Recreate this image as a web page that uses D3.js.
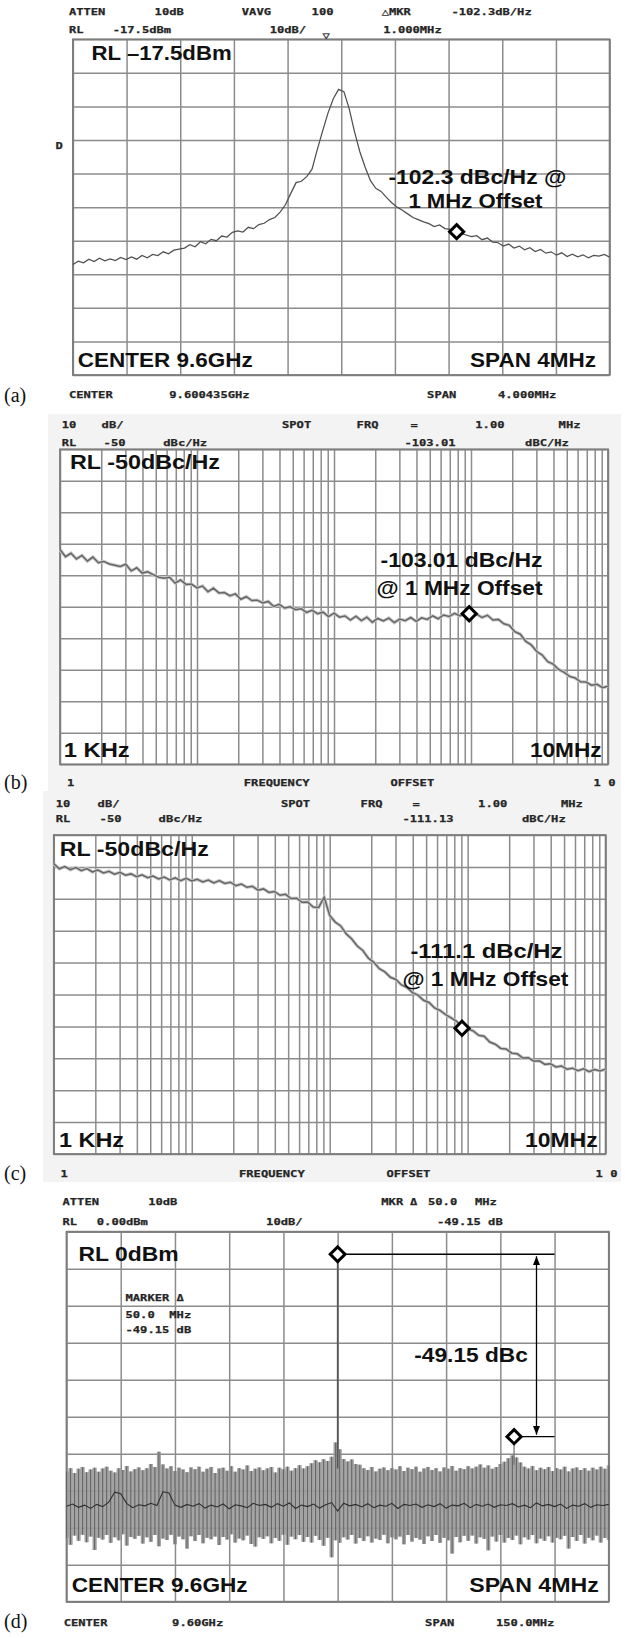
<!DOCTYPE html>
<html><head><meta charset="utf-8">
<script src="https://cdn.jsdelivr.net/npm/d3@7"></script>
<style>
html,body{margin:0;padding:0;background:#fff;}
svg{display:block;}
.mono{font-family:"DejaVu Sans Mono",monospace;font-weight:bold;font-size:9.5px;fill:#262626;stroke:#262626;stroke-width:0.25px;}
.big{font-family:"Liberation Sans",Arial,sans-serif;font-weight:bold;font-size:21px;fill:#111;}
.tag{font-family:"Liberation Serif","Times New Roman",serif;font-size:20px;fill:#111;}
</style></head><body>
<svg id="c" width="625" height="1638"></svg>
<script>
// ---------------- DATA ----------------
// (a) spectrum around carrier, offset from center (MHz), level dBm
const aSweep = [-2, 2];
const aTrace = [
 -84.6,-83.6,-84.1,-83.0,-83.7,-82.7,-83.5,-82.9,-83.4,-82.5,-83.1,
 -82.3,-83.0,-81.9,-82.6,-81.6,-81.9,-80.8,-81.4,-80.3,-80.0,
 -79.7,-78.7,-79.3,-77.8,-78.4,-77.1,-77.5,-76.1,-76.4,-75.0,
 -74.6,-74.9,-73.5,-73.9,-72.7,-72.3,-71.2,-70.6,-69.0,-66.8,
 -63.4,-60.2,-59.8,-58.4,-56.2,-50.3,-44.8,-39.5,-35.2,-32.4,
 -33.1,-38.2,-45.1,-51.0,-55.6,-59.6,-61.9,-62.8,-64.6,-66.2,
 -67.5,-68.4,-69.5,-70.6,-71.2,-71.9,-72.4,-73.3,-72.8,-73.9,
 -74.1,-74.9,-75.3,-75.8,-76.3,-76.0,-77.2,-76.7,-77.9,-78.1,
 -79.1,-78.5,-79.7,-79.1,-80.2,-79.6,-80.7,-80.1,-81.2,-80.8,
 -81.8,-81.1,-82.2,-81.5,-82.3,-81.7,-82.6,-81.9,-82.1,-81.6,-82.4];
const aMarker = [0.86, -74.8];
const aRange = [-117.5, -17.5];

// (b) phase noise, offset frequency 1 kHz .. 10 MHz (log10 sweep), dBc/Hz
const bSweepExp = [3, 7];
const bTrace = [
 -81.8,-84.1,-83.0,-84.8,-83.7,-85.5,-84.2,-86.0,-85.6,-86.4,
 -86.8,-87.2,-86.5,-88.6,-87.6,-89.3,-88.9,-89.8,-90.6,-90.9,
 -90.6,-92.5,-91.5,-92.9,-92.8,-94.0,-93.4,-95.2,-94.1,-95.6,
 -95.5,-96.5,-95.9,-97.6,-96.8,-98.0,-97.9,-98.8,-98.3,-99.9,
 -99.2,-100.4,-100.0,-100.9,-100.6,-101.8,-101.1,-102.2,-101.7,-103.1,
 -102.0,-103.3,-102.9,-104.2,-103.0,-104.4,-103.3,-104.9,-103.7,-104.5,
 -103.6,-105.0,-103.9,-104.4,-103.4,-104.6,-103.5,-104.0,-102.9,-103.8,
 -102.6,-103.1,-102.1,-102.9,-101.9,-102.4,-102.3,-103.4,-102.7,-104.2,
 -104.0,-105.4,-105.9,-107.9,-108.7,-111.0,-112.1,-114.2,-115.3,-117.4,
 -118.2,-119.9,-120.8,-122.1,-122.6,-123.8,-123.9,-124.9,-124.6,-125.7,-125.2];
const bMarker = [0.97e6, -102.2];

// (c) phase noise, offset frequency 1 kHz .. 10 MHz (log10 sweep), dBc/Hz
const cSweepExp = [3, 7];
const cTrace = [
 -59.0,-60.6,-59.9,-60.9,-60.2,-61.2,-60.5,-61.6,-61.0,-61.9,
 -61.4,-62.3,-61.7,-62.6,-62.2,-63.1,-62.5,-63.4,-62.9,-63.8,
 -63.2,-64.1,-63.4,-64.3,-63.6,-64.4,-63.9,-64.7,-64.1,-65.0,
 -64.3,-65.2,-64.8,-65.9,-65.4,-66.4,-66.1,-67.3,-66.9,-68.0,
 -67.7,-68.9,-68.6,-69.9,-69.8,-71.1,-71.0,-72.6,-72.7,-69.5,
 -75.2,-77.3,-78.5,-81.0,-82.6,-84.8,-86.2,-88.6,-89.9,-91.9,
 -92.9,-94.6,-95.3,-97.0,-97.8,-99.4,-100.2,-101.8,-102.5,-104.2,
 -105.0,-106.3,-107.3,-108.4,-110.3,-110.8,-111.4,-112.8,-113.1,-114.9,
 -115.6,-116.9,-117.1,-118.4,-118.6,-119.9,-119.8,-120.9,-120.8,-121.9,
 -121.7,-122.7,-122.4,-123.4,-123.1,-123.9,-123.3,-124.2,-123.5,-124.0,-123.4];
const cMarker = [0.91e6, -110.6];

// (d) wide span spectrum, offset (MHz) -75 .. 75, dBm
const dSweep = [-75, 75];
const dNoiseHigh = [
 -64.8,-63.9,-65.2,-64.1,-63.6,-65.0,-64.3,-63.8,-64.9,-64.0,
 -63.5,-64.6,-65.1,-63.9,-64.4,-63.3,-64.8,-64.2,-63.7,-64.5,
 -63.9,-62.8,-63.6,-59.5,-62.9,-64.0,-63.4,-64.7,-63.8,-64.3,
 -65.0,-63.7,-64.2,-63.5,-64.9,-64.1,-63.6,-65.2,-64.0,-63.8,
 -64.6,-63.4,-64.9,-63.9,-64.3,-63.2,-64.7,-64.1,-63.7,-64.5,
 -64.0,-63.6,-65.1,-63.8,-64.2,-63.5,-64.6,-63.9,-63.1,-64.0,
 -63.4,-62.6,-61.8,-62.3,-61.5,-62.0,-60.8,-57.0,-58.8,-61.4,
 -62.1,-61.6,-62.8,-63.0,-63.9,-64.4,-63.6,-64.8,-64.1,-63.7,
 -64.5,-63.9,-64.3,-63.4,-64.7,-63.8,-64.2,-63.5,-64.9,-64.0,
 -63.6,-64.4,-63.9,-64.8,-63.7,-64.1,-63.3,-64.6,-63.9,-64.2,
 -63.4,-64.0,-63.5,-62.9,-63.8,-63.2,-64.1,-63.6,-62.8,-62.2,
 -61.2,-60.5,-61.0,-62.4,-63.5,-64.0,-63.3,-64.5,-63.8,-64.2,
 -63.6,-64.7,-63.9,-64.3,-63.5,-64.8,-64.0,-63.7,-64.4,-63.9,
 -64.6,-63.8,-64.3,-63.5,-64.1,-63.2];
const dNoiseLow = [
 -82.8,-84.6,-82.1,-83.5,-81.9,-83.9,-82.4,-86.0,-82.7,-83.2,
 -82.0,-84.1,-82.6,-83.4,-81.8,-84.8,-82.5,-83.0,-82.2,-84.3,
 -82.6,-83.8,-82.0,-85.0,-82.9,-83.3,-81.9,-84.5,-82.4,-83.1,
 -85.6,-82.3,-83.6,-82.0,-84.2,-82.7,-83.1,-82.4,-84.7,-82.5,
 -83.2,-81.8,-84.0,-82.9,-83.4,-82.1,-84.4,-85.1,-82.6,-83.0,
 -82.3,-84.2,-82.8,-83.5,-81.9,-84.6,-82.4,-83.1,-82.0,-83.8,
 -82.5,-84.0,-82.2,-83.3,-84.9,-82.7,-88.0,-83.4,-84.1,-82.6,
 -83.2,-82.0,-84.3,-82.8,-83.6,-82.3,-84.0,-82.9,-83.3,-81.9,
 -84.2,-82.6,-83.1,-82.4,-84.5,-82.0,-83.7,-82.8,-83.2,-84.4,
 -82.3,-83.6,-82.0,-84.1,-82.7,-83.4,-87.0,-82.5,-83.9,-82.2,
 -83.5,-82.1,-84.3,-82.6,-83.0,-86.1,-82.4,-83.7,-82.0,-84.0,
 -82.8,-83.3,-82.1,-84.5,-82.6,-83.2,-82.0,-84.2,-82.9,-83.5,
 -82.3,-84.0,-82.7,-83.1,-82.2,-85.6,-82.5,-83.6,-82.0,-84.3,
 -82.7,-83.4,-82.1,-84.0,-82.8,-83.3];
const dNoiseMid = [
 -74.2,-73.6,-74.5,-73.9,-74.8,-73.7,-74.3,-73.1,-70.4,-70.8,
 -73.5,-74.6,-73.8,-74.1,-73.4,-74.0,-70.3,-70.6,-73.9,-74.5,
 -73.7,-74.2,-73.5,-74.7,-73.9,-74.4,-73.6,-74.9,-73.8,-74.1,
 -74.6,-73.4,-74.0,-73.7,-74.5,-73.5,-74.2,-73.3,-74.8,-73.9,
 -74.3,-73.6,-74.7,-73.8,-73.2,-75.5,-73.4,-74.1,-73.7,-74.4,
 -73.5,-74.6,-73.9,-74.2,-73.4,-74.8,-73.7,-74.0,-73.6,-74.5,
 -73.8,-74.3,-73.5,-74.7,-73.9,-74.1,-73.4,-74.6,-73.7,-74.2,
 -73.6,-74.5,-73.8,-74.0,-73.5,-74.4,-73.9,-74.6,-73.3,-74.1,
 -73.7,-74.3,-73.6,-74.8,-73.9,-74.2,-73.5,-74.5,-73.8,-74.0,-73.7];
const dCarrier = [0, -6.1];
const dSpur = [48.8, -55.4];
const dDeltaArrow = [55, 60];   // arrow position, end of reference lines (MHz)

// ---------------- TEXT ----------------
const aHead1 = ["ATTEN","10dB","VAVG","100","\u25B3MKR","-102.3dB/Hz"];
const aHead2 = ["RL","-17.5dBm","10dB/","1.000MHz"];
const aFoot  = ["CENTER","9.600435GHz","SPAN","4.000MHz"];
const bHead1 = ["10","dB/","SPOT","FRQ","=","1.00","MHz"];
const bHead2 = ["RL","-50","dBc/Hz","-103.01","dBC/Hz"];
const cHead1 = ["10","dB/","SPOT","FRQ","=","1.00","MHz"];
const cHead2 = ["RL","-50","dBc/Hz","-111.13","dBC/Hz"];
const logFoot = ["1","FREQUENCY","OFFSET","1 0"];
const dHead1 = ["ATTEN","10dB","MKR","\u0394","50.0","MHz"];
const dHead2 = ["RL","0.00dBm","10dB/","-49.15 dB"];
const dMarkerBox = ["MARKER \u0394","50.0  MHz","-49.15 dB"];
const dFoot  = ["CENTER","9.60GHz","SPAN","150.0MHz"];

// ---------------- DRAW ----------------
const svg = d3.select("#c");
const GRID = "#8c8c8c";

function drawGrid(x, y, xt, yt, P) {
  const g = svg.append("g");
  g.append("g").attr("transform", `translate(0,${P.y1})`)
    .call(d3.axisBottom(x).tickValues(xt).tickSize(-(P.y1 - P.y0)).tickFormat(""));
  g.append("g").attr("transform", `translate(${P.x0},0)`)
    .call(d3.axisLeft(y).tickValues(yt).tickSize(-(P.x1 - P.x0)).tickFormat(""));
  g.selectAll(".domain").remove();
  g.selectAll(".tick line").attr("stroke", GRID).attr("stroke-width", 1.5);
  g.append("rect").attr("x", P.x0).attr("y", P.y0).attr("width", P.x1 - P.x0)
    .attr("height", P.y1 - P.y0).attr("fill", "none").attr("stroke", "#7d7d7d").attr("stroke-width", 1.8);
}
function mono(t, x, y) {
  return svg.append("text").attr("class", "mono").attr("x", x).attr("y", y)
    .attr("textLength", [...t].length * 7.3).attr("lengthAdjust", "spacingAndGlyphs")
    .attr("xml:space", "preserve").text(t);
}
function row(labels, xs, y) { labels.forEach((t, i) => mono(t, xs[i], Array.isArray(y) ? y[i] : y)); }
function big(t, x, y, w, fs) {
  svg.append("text").attr("class", "big").attr("x", x).attr("y", y)
    .style("font-size", (fs || 21) + "px")
    .attr("textLength", w).attr("lengthAdjust", "spacingAndGlyphs").text(t);
}
function tag(t, x, y) { svg.append("text").attr("class", "tag").attr("x", x).attr("y", y).text(t); }
function diamond(x, y, s) {
  svg.append("path").attr("d", d3.symbol(d3.symbolSquare, s || 100)())
    .attr("transform", `translate(${x},${y}) rotate(45)`)
    .attr("fill", "#fff").attr("stroke", "#000").attr("stroke-width", 3);
}

// ---------- panel (a) ----------
const PA = {x0: 72.9, x1: 609.6, y0: 39.3, y1: 375};
const xA = d3.scaleLinear().domain(aSweep).range([PA.x0, PA.x1]);
const yA = d3.scaleLinear().domain(aRange).range([PA.y1, PA.y0]);
drawGrid(xA, yA, d3.range(11).map(i => aSweep[0] + i * (aSweep[1] - aSweep[0]) / 10),
  d3.range(11).map(i => aRange[0] + i * 10), PA);
const idxA = d3.scaleLinear().domain([0, aTrace.length - 1]).range(aSweep);
const lineA = d3.line().x((d, i) => xA(idxA(i))).y(d => yA(d));
svg.append("path").datum(aTrace).attr("d", lineA)
  .attr("fill", "none").attr("stroke", "#505050").attr("stroke-width", 1.25);
diamond(xA(aMarker[0]), yA(aMarker[1]));
row(aHead1, [68.9, 154.6, 241.8, 311.6, 381.7, 451.4], 14.5);
row(aHead2, [68.9, 112.7, 269.7, 383.3], 33);
mono("\u25BD", 322.5, 39);
mono("D", 55.5, 149);
row(aFoot, [68.9, 169.3, 427.1, 498], 398);
tag("(a)", 4, 402);
big("RL \u201317.5dBm", 91.6, 60, 140);
big("-102.3 dBc/Hz @", 388.4, 184, 178);
big("1 MHz Offset", 408.4, 208.3, 134);
big("CENTER 9.6GHz", 77.7, 367.3, 175);
big("SPAN 4MHz", 470, 367.3, 126);

// ---------- panels (b),(c) ----------
function logPanel(P, bg, trace, sweepExp, marker, head1, head2, hx1, hx2, hy1, hy2, fy, fx) {
  svg.append("rect").attr("x", bg[0]).attr("y", bg[1]).attr("width", bg[2] - bg[0])
    .attr("height", bg[3] - bg[1]).attr("fill", "#f3f3f3");
  svg.append("rect").attr("x", P.x0).attr("y", P.y0).attr("width", P.x1 - P.x0)
    .attr("height", P.y1 - P.y0).attr("fill", "#fff");
  const x = d3.scaleLog().domain([Math.pow(10, sweepExp[0]), Math.pow(10, sweepExp[1])]).range([P.x0, P.x1]);
  const y = d3.scaleLinear().domain([-150, -50]).range([P.y1, P.y0]);
  drawGrid(x, y, x.ticks(), d3.range(11).map(i => -150 + 10 * i), P);
  const idx = d3.scaleLinear().domain([0, trace.length - 1]).range(sweepExp);
  const ln = d3.line().x((d, i) => x(Math.pow(10, idx(i)))).y(d => y(d));
  svg.append("path").datum(trace).attr("d", ln)
    .attr("fill", "none").attr("stroke", "#c9c9c9").attr("stroke-width", 3.4);
  svg.append("path").datum(trace).attr("d", ln)
    .attr("fill", "none").attr("stroke", "#666").attr("stroke-width", 1.5);
  diamond(x(marker[0]), y(marker[1]));
  row(head1, hx1, hy1);
  row(head2, hx2, hy2);
  row(logFoot, fx, fy);
}
logPanel({x0: 60, x1: 608, y0: 449.3, y1: 764.3}, [48, 414, 621, 791], bTrace, bSweepExp, bMarker,
  bHead1, bHead2, [61.8, 101.6, 282, 356.6, 410.4, 475.3, 558.6], [61.8, 103.6, 163.3, 404.4, 525.1],
  428, 445.5, 786, [66.9, 243.8, 390.4, 593.6]);
tag("(b)", 4, 789);
big("RL -50dBc/Hz", 70, 469.3, 150);
big("-103.01 dBc/Hz", 380.5, 566.7, 162);
big("@ 1 MHz Offset", 376.5, 595, 166);
big("1 KHz", 63.7, 756.7, 66);
big("10MHz", 529.9, 756.7, 71.7);

logPanel({x0: 53.8, x1: 605.6, y0: 835, y1: 1154}, [43, 791, 621, 1182], cTrace, cSweepExp, cMarker,
  cHead1, cHead2, [55.8, 97.6, 280.9, 360.6, 412.4, 478.1, 561], [55.8, 99.6, 158.6, 402.4, 521.9],
  807, 822, 1177, [60.6, 239, 386.5, 595.6]);
tag("(c)", 4, 1180);
big("RL -50dBc/Hz", 59.8, 856, 149);
big("-111.1 dBc/Hz", 410.4, 958.3, 152);
big("@ 1 MHz Offset", 402.4, 986, 166);
big("1 KHz", 59, 1146.7, 65);
big("10MHz", 525.1, 1146.7, 72.5);

// ---------- panel (d) ----------
const PD = {x0: 66.5, x1: 608.8, y0: 1231.7, y1: 1601.7};
const xD = d3.scaleLinear().domain(dSweep).range([PD.x0, PD.x1]);
const yD = d3.scaleLinear().domain([-100, 0]).range([PD.y1, PD.y0]);
const idxD = d3.scaleLinear().domain([0, dNoiseHigh.length - 1]).range(dSweep);
const idxM = d3.scaleLinear().domain([0, dNoiseMid.length - 1]).range(dSweep);
const band = dNoiseHigh.map((h, i) => ({f: idxD(i), h: h, l: dNoiseLow[i]}));
const bandArea = d3.area().curve(d3.curveStep).x(d => xD(d.f)).y0(d => yD(d.l)).y1(d => yD(d.h));
svg.append("path").datum(band).attr("d", bandArea).attr("fill", "#a3a3a3");
drawGrid(xD, yD, d3.range(11).map(i => dSweep[0] + 15 * i), d3.range(11).map(i => -100 + 10 * i), PD);
svg.append("path").datum(band).attr("d", bandArea).attr("fill", "#a6a6a6").attr("fill-opacity", 0.5);
svg.append("g").selectAll("line").data(band).join("line")
  .attr("x1", d => xD(d.f)).attr("x2", d => xD(d.f))
  .attr("y1", d => yD(d.h)).attr("y2", d => yD(d.l))
  .attr("stroke", "#666").attr("stroke-width", 1.1);
svg.append("path").datum(dNoiseMid)
  .attr("d", d3.line().x((d, i) => xD(idxM(i))).y(d => yD(d)))
  .attr("fill", "none").attr("stroke", "#2e2e2e").attr("stroke-width", 1.1);
// carrier and spur lines
svg.append("line").attr("x1", xD(dCarrier[0])).attr("x2", xD(dCarrier[0]))
  .attr("y1", yD(dCarrier[1])).attr("y2", yD(-64)).attr("stroke", "#555").attr("stroke-width", 1.6);
svg.append("line").attr("x1", xD(dSpur[0])).attr("x2", xD(dSpur[0]))
  .attr("y1", yD(dSpur[1])).attr("y2", yD(-63)).attr("stroke", "#777").attr("stroke-width", 1.3);
// delta annotation
const defs = svg.append("defs");
defs.append("marker").attr("id", "ah").attr("viewBox", "0 0 10 10").attr("refX", 10).attr("refY", 5)
  .attr("markerWidth", 7).attr("markerHeight", 7).attr("orient", "auto-start-reverse")
  .append("path").attr("d", "M0,1 L10,5 L0,9 z").attr("fill", "#000");
svg.append("line").attr("x1", xD(dCarrier[0])).attr("x2", xD(dDeltaArrow[1]))
  .attr("y1", yD(dCarrier[1])).attr("y2", yD(dCarrier[1])).attr("stroke", "#000").attr("stroke-width", 1.3);
svg.append("line").attr("x1", xD(dSpur[0])).attr("x2", xD(dDeltaArrow[1]))
  .attr("y1", yD(dSpur[1])).attr("y2", yD(dSpur[1])).attr("stroke", "#000").attr("stroke-width", 1.3);
svg.append("line").attr("x1", xD(dDeltaArrow[0])).attr("x2", xD(dDeltaArrow[0]))
  .attr("y1", yD(dCarrier[1]) + 2).attr("y2", yD(dSpur[1]) - 2)
  .attr("stroke", "#000").attr("stroke-width", 1.3)
  .attr("marker-start", "url(#ah)").attr("marker-end", "url(#ah)");
diamond(xD(dCarrier[0]), yD(dCarrier[1]), 110);
diamond(xD(dSpur[0]), yD(dSpur[1]), 100);
row(dHead1, [62.5, 148.2, 381.3, 410, 428, 474.9], 1205);
row(dHead2, [62.5, 96.8, 266.1, 437], 1225);
row(dMarkerBox, [125.5, 125.5, 125.5], [1301, 1318, 1333]);
row(dFoot, [63.7, 172.1, 425.1, 496], 1626);
tag("(d)", 4, 1628);
big("RL 0dBm", 78.5, 1261, 100);
big("-49.15 dBc", 414.3, 1361.7, 113.6);
big("CENTER 9.6GHz", 71.7, 1592.3, 176);
big("SPAN 4MHz", 469.3, 1592.3, 129.5);
</script>
</body></html>
